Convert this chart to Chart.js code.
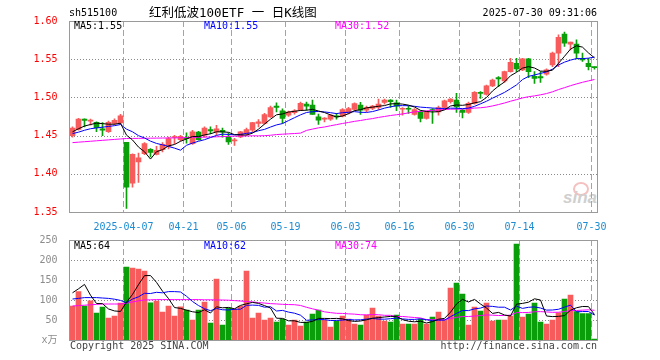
<!DOCTYPE html>
<html><head><meta charset="utf-8">
<script src="https://cdn.jsdelivr.net/npm/chart.js@4.4.1/dist/chart.umd.min.js"></script>
<style>
html,body{margin:0;padding:0;background:#fff;width:660px;height:360px;overflow:hidden;}
#wrap{position:relative;width:660px;height:360px;}
canvas{position:absolute;left:0;}
.t{position:absolute;font-family:"DejaVu Sans Mono","Noto Sans CJK SC",monospace;font-size:10px;line-height:12px;white-space:nowrap;color:#000;}
#wm{position:absolute;left:563px;top:182px;width:40px;height:30px;}
</style></head><body>
<div id="wrap">
<div id="wm">
  <div style="position:absolute;left:10px;top:0px;width:12px;height:10px;border:2px solid #f5c0c0;border-radius:50%;"></div>
  <div style="position:absolute;left:0;top:6px;font:italic bold 17px 'Liberation Sans',sans-serif;color:#cfcfcf;">sina</div>
</div>
<canvas id="pc" width="660" height="232" style="top:0"></canvas>
<canvas id="vc" width="660" height="130" style="top:230px"></canvas>
<div class="t" style="left:69px;top:7px">sh515100</div>
<div class="t" style="left:149px;top:6px;font-size:12.5px;line-height:14px">红利低波100ETF 一 日K线图</div>
<div class="t" style="right:63px;top:7px">2025-07-30 09:31:06</div>
<div class="t" id="pm5" style="left:74px;top:20px"></div>
<div class="t" id="pm10" style="left:204px;top:20px;color:#0000ff"></div>
<div class="t" id="pm30" style="left:335px;top:20px;color:#ff00ff"></div>
<div class="t" id="vm5" style="left:74px;top:240px"></div>
<div class="t" id="vm10" style="left:204px;top:240px;color:#0000ff"></div>
<div class="t" id="vm30" style="left:335px;top:240px;color:#ff00ff"></div>
<div class="t" style="left:70px;top:340px;color:#444">Copyright 2025 SINA.COM</div>
<div class="t" style="right:63px;top:340px;color:#444">http://finance.sina.com.cn</div>
</div>
<script>
const dates = ['2025-03-24','2025-03-25','2025-03-26','2025-03-27','2025-03-28','2025-03-31',
'2025-04-01','2025-04-02','2025-04-03','2025-04-07','2025-04-08','2025-04-09','2025-04-10','2025-04-11','2025-04-14','2025-04-15','2025-04-16','2025-04-17','2025-04-18','2025-04-21','2025-04-22','2025-04-23','2025-04-24','2025-04-25','2025-04-28','2025-04-29','2025-04-30',
'2025-05-06','2025-05-07','2025-05-08','2025-05-09','2025-05-12','2025-05-13','2025-05-14','2025-05-15','2025-05-16','2025-05-19','2025-05-20','2025-05-21','2025-05-22','2025-05-23','2025-05-26','2025-05-27','2025-05-28','2025-05-29','2025-05-30',
'2025-06-03','2025-06-04','2025-06-05','2025-06-06','2025-06-09','2025-06-10','2025-06-11','2025-06-12','2025-06-13','2025-06-16','2025-06-17','2025-06-18','2025-06-19','2025-06-20','2025-06-23','2025-06-24','2025-06-25','2025-06-26','2025-06-27','2025-06-30',
'2025-07-01','2025-07-02','2025-07-03','2025-07-04','2025-07-07','2025-07-08','2025-07-09','2025-07-10','2025-07-11','2025-07-14','2025-07-15','2025-07-16','2025-07-17','2025-07-18','2025-07-21','2025-07-22','2025-07-23','2025-07-24','2025-07-25','2025-07-28','2025-07-29','2025-07-30'];

const tickDates = ['2025-04-07','2025-04-21','2025-05-06','2025-05-19','2025-06-03','2025-06-16','2025-06-30','2025-07-14','2025-07-30'];
const tickTexts = ['2025-04-07','04-21','05-06','05-19','06-03','06-16','06-30','07-14','07-30'];

const priceTicks = [1.35, 1.40, 1.45, 1.50, 1.55, 1.60];
const volumeTicks = [0, 50, 100, 150, 200, 250];

const opens = [1.450,1.458,1.4715,1.469,1.4675,1.459,1.455,1.466,1.4665,1.4412,
1.3877,1.4154,1.4263,1.432,1.4254,1.4316,1.436,1.4475,1.4447,1.447,
1.4395,1.4545,1.4505,1.458,1.4548,1.457,1.449,1.443,1.4482,1.4526,
1.457,1.4658,1.4658,1.4746,1.4886,1.4825,1.4768,1.480,1.4833,1.4912,
1.490,1.4746,1.4715,1.4715,1.4755,1.4755,1.4798,1.4842,1.490,1.4833,
1.4855,1.4868,1.4934,1.4965,1.493,1.4845,1.4855,1.4776,1.481,1.4724,
1.4842,1.4811,1.4868,1.4943,1.4965,1.4833,1.4803,1.4921,1.5066,1.504,
1.515,1.5259,1.5215,1.5338,1.5447,1.536,1.5504,1.5276,1.5272,1.5303,
1.5425,1.5579,1.5829,1.5697,1.5697,1.5513,1.5447,1.5395];

const highs = [1.4615,1.4725,1.472,1.4715,1.468,1.467,1.469,1.472,1.478,1.4412,
1.426,1.4272,1.441,1.433,1.436,1.441,1.448,1.4505,1.4505,1.4535,
1.457,1.4557,1.4615,1.4615,1.4635,1.460,1.4535,1.4465,1.4557,1.460,
1.4675,1.471,1.479,1.4886,1.493,1.485,1.482,1.484,1.494,1.4939,
1.4965,1.4781,1.4737,1.4775,1.479,1.4855,1.487,1.493,1.4934,1.4886,
1.4895,1.4978,1.4978,1.4973,1.4965,1.4868,1.4886,1.4855,1.4825,1.482,
1.4855,1.4886,1.4965,1.4985,1.5053,1.4842,1.494,1.5075,1.5075,1.516,
1.524,1.5272,1.5346,1.5513,1.5513,1.5513,1.5513,1.5338,1.5338,1.5373,
1.5592,1.582,1.5855,1.5724,1.5754,1.5579,1.5513,1.540];

const lows = [1.448,1.457,1.4615,1.4635,1.455,1.450,1.454,1.464,1.465,1.3548,
1.3825,1.3886,1.425,1.422,1.4246,1.4285,1.4325,1.4395,1.443,1.440,
1.4386,1.4439,1.448,1.4525,1.4505,1.448,1.4386,1.437,1.4474,1.451,
1.455,1.4614,1.465,1.4737,1.4811,1.4658,1.475,1.478,1.4825,1.4833,
1.4776,1.4645,1.468,1.470,1.4715,1.4746,1.4785,1.483,1.4776,1.481,
1.484,1.4842,1.491,1.4868,1.4825,1.4768,1.479,1.4768,1.468,1.4715,
1.4658,1.4768,1.4855,1.4925,1.4803,1.4732,1.479,1.4912,1.4987,1.503,
1.514,1.514,1.5197,1.5329,1.5338,1.535,1.5259,1.5184,1.5197,1.529,
1.5403,1.5403,1.5667,1.5623,1.5504,1.547,1.536,1.537];

const closes = [1.460,1.4715,1.470,1.4695,1.4605,1.457,1.4675,1.470,1.476,1.3825,
1.4254,1.421,1.4395,1.428,1.4307,1.4386,1.446,1.4485,1.449,1.446,
1.455,1.4447,1.460,1.456,1.459,1.4548,1.4417,1.4445,1.4548,1.4579,
1.467,1.468,1.4776,1.4868,1.4868,1.4724,1.4807,1.4825,1.4921,1.4886,
1.4776,1.4702,1.4724,1.4768,1.4746,1.4842,1.4855,1.492,1.4833,1.4868,
1.4886,1.4912,1.4965,1.4943,1.4886,1.4855,1.4845,1.4842,1.4724,1.481,
1.4825,1.4868,1.4956,1.4978,1.4877,1.4803,1.4921,1.5066,1.5053,1.515,
1.5228,1.5241,1.5338,1.546,1.5373,1.5504,1.5338,1.525,1.5255,1.536,
1.5579,1.5785,1.5711,1.5724,1.5579,1.5491,1.5403,1.539];

const volumes = [85,121,85,98,67.5,82.5,55,60,92,182.5,
180,177.5,172.5,93,97.5,70,85,60,83,75,
50,75,95,42.5,152.5,37.5,80,77.5,85,172.5,
55,67.5,50,55,45,52.5,37.5,50,35,45,
65,75,50,32.5,47.5,60,52.5,40,37.5,62.5,
80,60,47.5,45,62.5,40,40,40,52.5,40,
57.5,70,50,130,142.5,115,37.5,82.5,72.5,92.5,
47.5,50,50,60,240,57.5,65,92.5,45,40,
50,68,102,112,71,66,66,2.5];

// moving-average values visible at the left edge, before a full window exists
const ma5Lead = [1.455,1.459,1.4625,1.4645];
const ma10Lead = [1.4526,1.4545,1.457,1.459,1.460,1.461,1.462,1.463,1.4645];
const ma30Lead = [1.4408,1.4414,1.442,1.4426,1.4432,1.4438,1.4444,1.445,1.4456,1.4462,1.4463,1.4464,1.4465,1.4466,1.4467,1.4468,1.4469,1.447,1.4472,1.4474,1.4476,1.4478,1.448,1.4482,1.4484,1.4487,1.449,1.4492,1.4494];
const vma5Lead = [118,128,139,112];
const vma10Lead = [102.5,104,106,106,106,105,104,102,99];
const vma30Lead = [85,86,87,88,89,90,90,90,90,92,95,98,100,100.5,101,101,101,101,101,101,101,101,100.5,100.5,100,100,99.5,98.5,97.5];

const RED = '#f85b5b', GREEN = '#0a9e0a';

function movingAvg(vals, n, lead) {
  return vals.map((v, i) => {
    if (i < n - 1) return lead[i];
    let s = 0; for (let k = i - n + 1; k <= i; k++) s += vals[k];
    return s / n;
  });
}
const ma5 = movingAvg(closes, 5, ma5Lead), ma10 = movingAvg(closes, 10, ma10Lead), ma30 = movingAvg(closes, 30, ma30Lead);
const vma5 = movingAvg(volumes, 5, vma5Lead), vma10 = movingAvg(volumes, 10, vma10Lead), vma30 = movingAvg(volumes, 30, vma30Lead);
const last = dates.length - 1;
document.getElementById('pm5').textContent = 'MA5:' + ma5[last].toFixed(2);
document.getElementById('pm10').textContent = 'MA10:' + ma10[last].toFixed(2);
document.getElementById('pm30').textContent = 'MA30:' + ma30[last].toFixed(2);
document.getElementById('vm5').textContent = 'MA5:' + Math.round(vma5[last]);
document.getElementById('vm10').textContent = 'MA10:' + Math.round(vma10[last]);
document.getElementById('vm30').textContent = 'MA30:' + Math.round(vma30[last]);

const colors = closes.map((c, i) => c >= opens[i] ? RED : GREEN);
const tickIdx = tickDates.map(d => dates.indexOf(d));

Chart.defaults.font.family = '"DejaVu Sans Mono","Noto Sans CJK SC",monospace';
Chart.defaults.font.size = 10;

function makeGrid(yTicks) {
  return {
    id: 'sinaGrid',
    beforeDatasetsDraw(chart) {
      const ctx = chart.ctx, a = chart.chartArea, x = chart.scales.x, y = chart.scales.y;
      const x0 = Math.floor(a.left) + 1, x1 = Math.floor(a.right);
      ctx.save();
      // dotted horizontals at the inner value ticks: 1px dots every 3px
      ctx.fillStyle = '#8a8a8a';
      for (let k = 1; k < yTicks.length - 1; k++) {
        const py = Math.round(y.getPixelForValue(yTicks[k]));
        for (let px = x0 + 1; px < x1; px += 3) ctx.fillRect(px, py, 1, 1);
      }
      // dashed verticals at the labelled dates
      ctx.lineWidth = 1;
      ctx.strokeStyle = '#a4a4a4';
      ctx.setLineDash([6, 3]);
      const half = (x.getPixelForValue(1) - x.getPixelForValue(0)) / 2;
      for (const i of tickIdx) {
        const px = Math.floor(x.getPixelForValue(i) - half) + 0.5;
        ctx.beginPath(); ctx.moveTo(px, a.top); ctx.lineTo(px, a.bottom); ctx.stroke();
      }
      ctx.restore();
    },
    afterDraw(chart) {
      const ctx = chart.ctx, a = chart.chartArea;
      const l = Math.floor(a.left) + 0.5, t = Math.floor(a.top) + 0.5;
      const r = Math.floor(a.right) + 0.5, b = Math.floor(a.bottom) + 0.5;
      ctx.save(); ctx.setLineDash([]); ctx.strokeStyle = '#9a9a9a'; ctx.lineWidth = 1;
      ctx.strokeRect(l, t, r - l, b - t); ctx.restore();
    }
  };
}

function xScale(showLabels, h) {
  return {
    offset: true,
    grid: { display: false },
    border: { display: false },
    ticks: { display: showLabels, autoSkip: false, maxRotation: 0, minRotation: 0, color: '#1e8cd2', padding: 1, labelOffset: -3,
      callback: (v, i) => { const k = tickIdx.indexOf(i); return k >= 0 ? tickTexts[k] : ''; } },
    afterFit: s => { s.height = h; }
  };
}
function line(data, color) {
  return { type: 'line', data, borderColor: color, borderWidth: 1, pointRadius: 0, tension: 0, fill: false, order: 0 };
}

new Chart(document.getElementById('pc'), {
  type: 'bar',
  data: {
    labels: dates,
    datasets: [
      line(ma5, '#000000'), line(ma10, '#0000ff'), line(ma30, '#ff00ff'),
      { data: opens.map((o, i) => [o, closes[i]]), backgroundColor: colors, barThickness: 5, minBarLength: 1, grouped: false, order: 1 },
      { data: lows.map((l, i) => [l, highs[i]]), backgroundColor: colors, barThickness: 1, grouped: false, order: 2 }
    ]
  },
  options: {
    responsive: false, animation: false, devicePixelRatio: 1,
    layout: { padding: { left: 0, right: 62.5, top: 21, bottom: 0 } },
    plugins: { legend: { display: false }, tooltip: { enabled: false } },
    scales: {
      x: xScale(true, 20),
      y: {
        min: priceTicks[0], max: priceTicks[priceTicks.length - 1],
        afterBuildTicks: s => { s.ticks = priceTicks.map(v => ({ value: v })); },
        ticks: { color: '#ff0000', padding: 4, callback: v => Number(v).toFixed(2) },
        grid: { display: false },
        border: { display: false },
        afterFit: s => { s.width = 69.5; }
      }
    }
  },
  plugins: [makeGrid(priceTicks)]
});

new Chart(document.getElementById('vc'), {
  type: 'bar',
  data: {
    labels: dates,
    datasets: [
      line(vma5, '#000000'), line(vma10, '#0000ff'), line(vma30, '#ff00ff'),
      { data: volumes, backgroundColor: colors, barThickness: 5, grouped: false, order: 1 }
    ]
  },
  options: {
    responsive: false, animation: false, devicePixelRatio: 1,
    layout: { padding: { left: 0, right: 62.5, top: 10, bottom: 20 } },
    plugins: { legend: { display: false }, tooltip: { enabled: false } },
    scales: {
      x: xScale(false, 0),
      y: {
        min: volumeTicks[0], max: volumeTicks[volumeTicks.length - 1],
        afterBuildTicks: s => { s.ticks = volumeTicks.map(v => ({ value: v })); },
        ticks: { color: '#8c8c8c', padding: 4, callback: v => v === 0 ? 'x万' : String(v) },
        grid: { display: false },
        border: { display: false },
        afterFit: s => { s.width = 69.5; }
      }
    }
  },
  plugins: [makeGrid(volumeTicks)]
});
</script>
</body></html>
